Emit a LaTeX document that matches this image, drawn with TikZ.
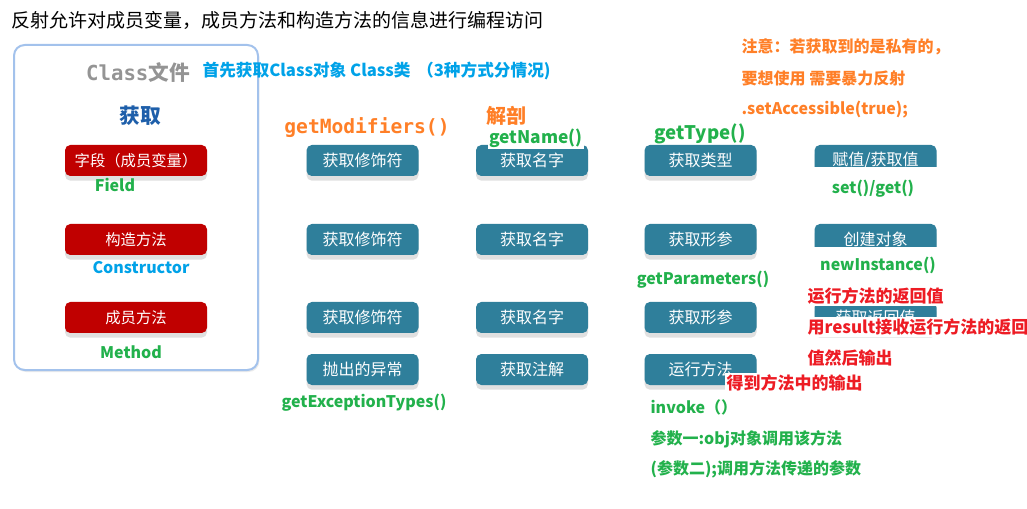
\documentclass[tikz,border=0pt]{standalone}
\usepackage{fontspec}
\setmainfont{Noto Sans CJK SC}
\newfontfamily\monofont{DejaVu Sans Mono}
\usepackage{xcolor}
\usetikzlibrary{shadows}

\definecolor{tealc}{RGB}{47,127,155}
\definecolor{boxred}{RGB}{192,0,0}
\definecolor{frameblue}{RGB}{163,194,236}
\definecolor{txtorange}{RGB}{255,127,39}
\definecolor{txtgreen}{RGB}{34,177,76}
\definecolor{txtred}{RGB}{237,28,36}
\definecolor{txtblue}{RGB}{0,162,232}
\definecolor{darkblue}{RGB}{30,95,170}

\begin{document}
\begin{tikzpicture}[
    x=0.75pt, y=-0.75pt,
    clsframe/.style={draw=frameblue, line width=1.5pt, rounded corners=8pt,
                     fill=white, drop shadow={shadow xshift=1pt, shadow yshift=-1.5pt,
                     opacity=1, fill=black!8}},
    redbox/.style={fill=boxred, text=white, rounded corners=4pt, inner sep=0pt,
                   minimum width=106.5pt, minimum height=23.25pt,
                   font=\fontsize{11.5pt}{13pt}\selectfont,
                   drop shadow={shadow xshift=0pt, shadow yshift=-3.5pt, opacity=1, fill=black!12}},
    tealbox/.style={fill=tealc, text=white, rounded corners=4pt, inner sep=0pt,
                    minimum width=84pt, minimum height=23.25pt,
                    font=\fontsize{12pt}{14pt}\selectfont,
                    drop shadow={shadow xshift=0pt, shadow yshift=-3.5pt, opacity=1, fill=black!12}},
    widebox/.style={tealbox, minimum width=91.5pt},
    lbl/.style={inner sep=1pt, font=\fontsize{12pt}{14pt}\selectfont\bfseries},
    big/.style={lbl, font=\fontsize{15.5pt}{17pt}\selectfont\bfseries},
    cover/.style={lbl, fill=white}
]
\useasboundingbox (0,0) rectangle (1027,509);

\node[anchor=west, inner sep=0pt, font=\fontsize{14.25pt}{16pt}\selectfont] (title) at (11,20)
    {反射允许对成员变量，成员方法和构造方法的信息进行编程访问};

% Class file
\node[clsframe, minimum width=183pt, minimum height=243.75pt] (cls) at (136,207.5) {};
\node[big, text=black!42] (clsname) at (138,73) {{\monofont Class}文件};
\node[lbl, text=txtblue, anchor=west, font=\fontsize{12.5pt}{14pt}\selectfont\bfseries] (first) at (201,71)
    {首先获取Class对象 Class类 \,（3种方式分情况)};
\node[big, text=darkblue] (get) at (140,116) {获取};

\node[redbox] (field) at (136,160.5) {字段（成员变量）};
\node[redbox] (ctor)  at (136,239.5) {构造方法};
\node[redbox] (meth)  at (136,317.5) {成员方法};

\node[lbl, text=txtgreen] (fieldlbl) at (115,185) {Field};
\node[lbl, text=txtblue]  (ctorlbl)  at (141,268) {Constructor};
\node[lbl, text=txtgreen] (methlbl)  at (131,352) {Method};

% dissect
\node[tealbox] (fmod) at (362.5,160.5) {获取修饰符};
\node[tealbox] (cmod) at (362.5,239.5) {获取修饰符};
\node[tealbox] (mmod) at (362.5,317.5) {获取修饰符};
\node[tealbox] (mexc) at (362.5,369.5) {抛出的异常};

\node[tealbox] (fname) at (532,160.5) {获取名字};
\node[tealbox] (cname) at (532,239.5) {获取名字};
\node[tealbox] (mname) at (532,317.5) {获取名字};
\node[tealbox] (mann)  at (532,369.5) {获取注解};

\node[tealbox] (ftype) at (700.5,160.5) {获取类型};
\node[tealbox] (cpar)  at (700.5,239.5) {获取形参};
\node[tealbox] (mpar)  at (700.5,317.5) {获取形参};
\node[tealbox] (mrun)  at (700.5,369.5) {运行方法};

\node[widebox] (fval) at (875.5,160.5) {赋值/获取值};
\node[widebox] (cnew) at (875.5,239.5) {创建对象};
\node[widebox] (mret) at (875.5,317.5) {获取返回值};

\node[lbl, text=txtorange, font=\fontsize{14.7pt}{16pt}\selectfont\bfseries\monofont] (modlbl) at (367,128) {getModifiers()};
\node[big, text=txtorange, font=\fontsize{15pt}{17pt}\selectfont\bfseries] (dissect) at (506,116) {解剖};
\node[cover, text=txtgreen, font=\fontsize{13pt}{15pt}\selectfont\bfseries] (namelbl) at (536,138) {getName()};
\node[lbl, text=txtgreen, font=\fontsize{14pt}{16pt}\selectfont\bfseries] (typelbl) at (700,134) {getType()};
\node[lbl, text=txtgreen] (parlbl) at (703,280) {getParameters()};
\node[lbl, text=txtgreen] (exclbl) at (364,403) {getExceptionTypes()};

% notes
\node[lbl, text=txtorange, anchor=west] (note1) at (740,47) {注意：若获取到的是私有的，};
\node[lbl, text=txtorange, anchor=west] (note2) at (740,78) {要想使用 需要暴力反射};
\node[lbl, text=txtorange, anchor=west] (note3) at (740,110) {.setAccessible(true);};

\node[cover, text=txtgreen, minimum width=99pt, minimum height=33pt] (setlbl) at (873,189) {set()/get()};
\node[cover, text=txtgreen, minimum width=99pt, minimum height=27pt] (newlbl) at (878,265) {newInstance()};

\node[cover, text=txtred, anchor=west, font=\fontsize{12.75pt}{15pt}\selectfont\bfseries] (ret1) at (806,296) {运行方法的返回值};
\node[cover, text=txtred, anchor=west, font=\fontsize{12.75pt}{15pt}\selectfont\bfseries] (ret2) at (806,327) {用result接收运行方法的返回};
\node[lbl, text=txtred, anchor=west, font=\fontsize{12.75pt}{15pt}\selectfont\bfseries] (ret3) at (806,358) {值然后输出};
\node[cover, text=txtred, anchor=west, font=\fontsize{12.75pt}{15pt}\selectfont\bfseries] (outlbl) at (725,383) {得到方法中的输出};

\node[lbl, text=txtgreen, anchor=west] (inv1) at (649,407) {invoke（）};
\node[lbl, text=txtgreen, anchor=west] (inv2) at (649,439) {参数一:obj对象调用该方法};
\node[lbl, text=txtgreen, anchor=west] (inv3) at (649,469) {(参数二);调用方法传递的参数};
\end{tikzpicture}
\end{document}
